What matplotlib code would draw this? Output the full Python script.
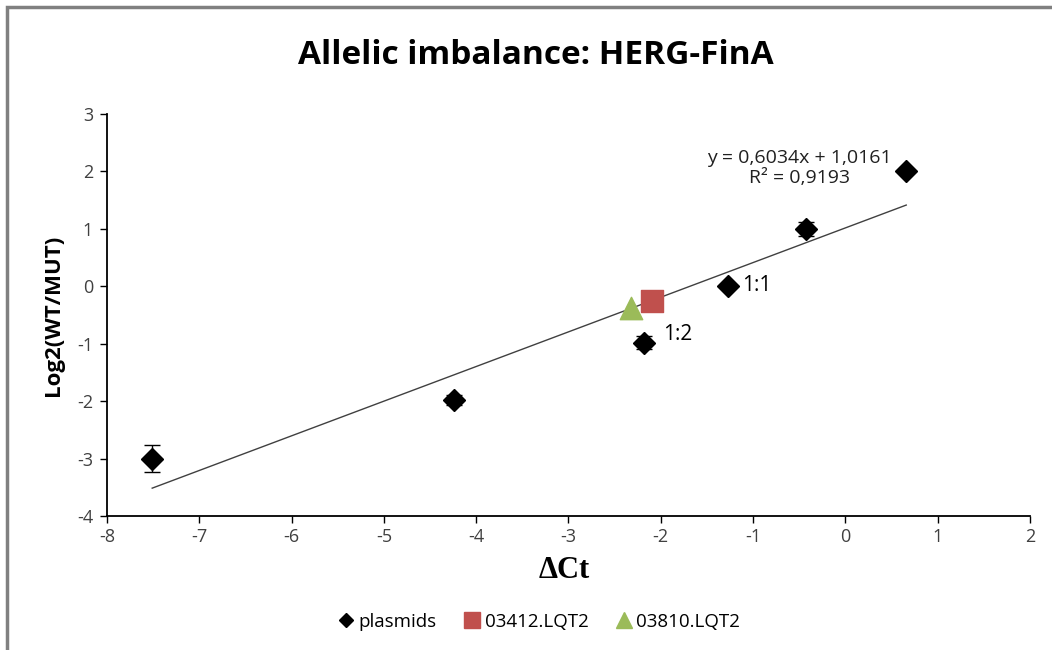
import matplotlib.pyplot as plt
from matplotlib.lines import Line2D

# Plasmid standards
plasmid_dct = [-7.51, -4.24, -2.18, -1.27, -0.43, 0.66]
plasmid_log2 = [-3.0, -1.98, -0.98, 0.0, 1.0, 2.0]
plasmid_err = [0.23, 0.08, 0.12, 0.0, 0.12, 0.0]

# Patient samples
s03412_dct = [-2.10]
s03412_log2 = [-0.26]
s03810_dct = [-2.32]
s03810_log2 = [-0.38]

# Trendline (linear fit of plasmids)
slope = 0.6034
intercept = 1.0161
r2 = 0.9193

plt.rcParams['font.family'] = ['Open Sans', 'DejaVu Sans']
plt.rcParams['axes.unicode_minus'] = False

fig = plt.figure(figsize=(10.52, 6.5), dpi=100)
ax = fig.add_axes([0.1017, 0.2062, 0.8773, 0.6184])

# grey frame round the chart area
fig.patches.append(plt.Rectangle((0.007, -0.01), 1.1, 0.999, transform=fig.transFigure,
                                 fill=False, edgecolor='#808080', linewidth=2.5))

xs = [min(plasmid_dct), max(plasmid_dct)]
ax.plot(xs, [slope * x + intercept for x in xs], color='#404040', linewidth=1, zorder=1)

ax.errorbar(plasmid_dct, plasmid_log2, yerr=plasmid_err, fmt='D', color='black',
            markersize=11, elinewidth=1, capsize=6, capthick=1, zorder=3)
ax.scatter(s03412_dct, s03412_log2, marker='s', s=230, color='#c0504d', zorder=4)
ax.scatter(s03810_dct, s03810_log2, marker='^', s=260, color='#9bbb59', zorder=4)

ax.text(-1.12, 0.02, '1:1', fontsize=15, va='center')
ax.text(-1.98, -0.84, '1:2', fontsize=15, va='center')
ax.text(-0.50, 2.06, 'y = 0,6034x + 1,0161\nR² = 0,9193', fontsize=14,
        ha='center', va='center', linespacing=1.1, color='#202020')

ax.set_xlim(-8, 2)
ax.set_ylim(-4, 3)
ax.set_xticks(range(-8, 3))
ax.set_yticks(range(-4, 4))
ax.tick_params(direction='out', length=5, width=1, labelsize=13, colors='black',
               labelcolor='#404040')
ax.tick_params(axis='y', pad=5)
for side in ['top', 'right']:
    ax.spines[side].set_visible(False)
for side in ['left', 'bottom']:
    ax.spines[side].set_linewidth(1.3)

ax.set_title('Allelic imbalance: HERG-FinA', fontsize=24, fontweight='bold',
             x=0.465, pad=36)
ax.set_xlabel('ΔCt', fontsize=22, fontweight='bold', family='Liberation Serif')
ax.xaxis.set_label_coords(0.495, -0.1)
ax.set_ylabel('Log2(WT/MUT)', fontsize=16, fontweight='bold')
ax.yaxis.set_label_coords(-0.047, 0.5)

handles = [
    Line2D([], [], marker='D', color='black', linestyle='', markersize=7),
    Line2D([], [], marker='s', color='#c0504d', linestyle='', markersize=12),
    Line2D([], [], marker='^', color='#9bbb59', linestyle='', markersize=12),
]
fig.legend(handles, ['plasmids', '03412.LQT2', '03810.LQT2'], loc='center',
           bbox_to_anchor=(0.511, 0.043), ncol=3, frameon=False, fontsize=13.5,
           handletextpad=0.05, columnspacing=1.3, handlelength=1.2)

fig.savefig('out.png', dpi=100)
